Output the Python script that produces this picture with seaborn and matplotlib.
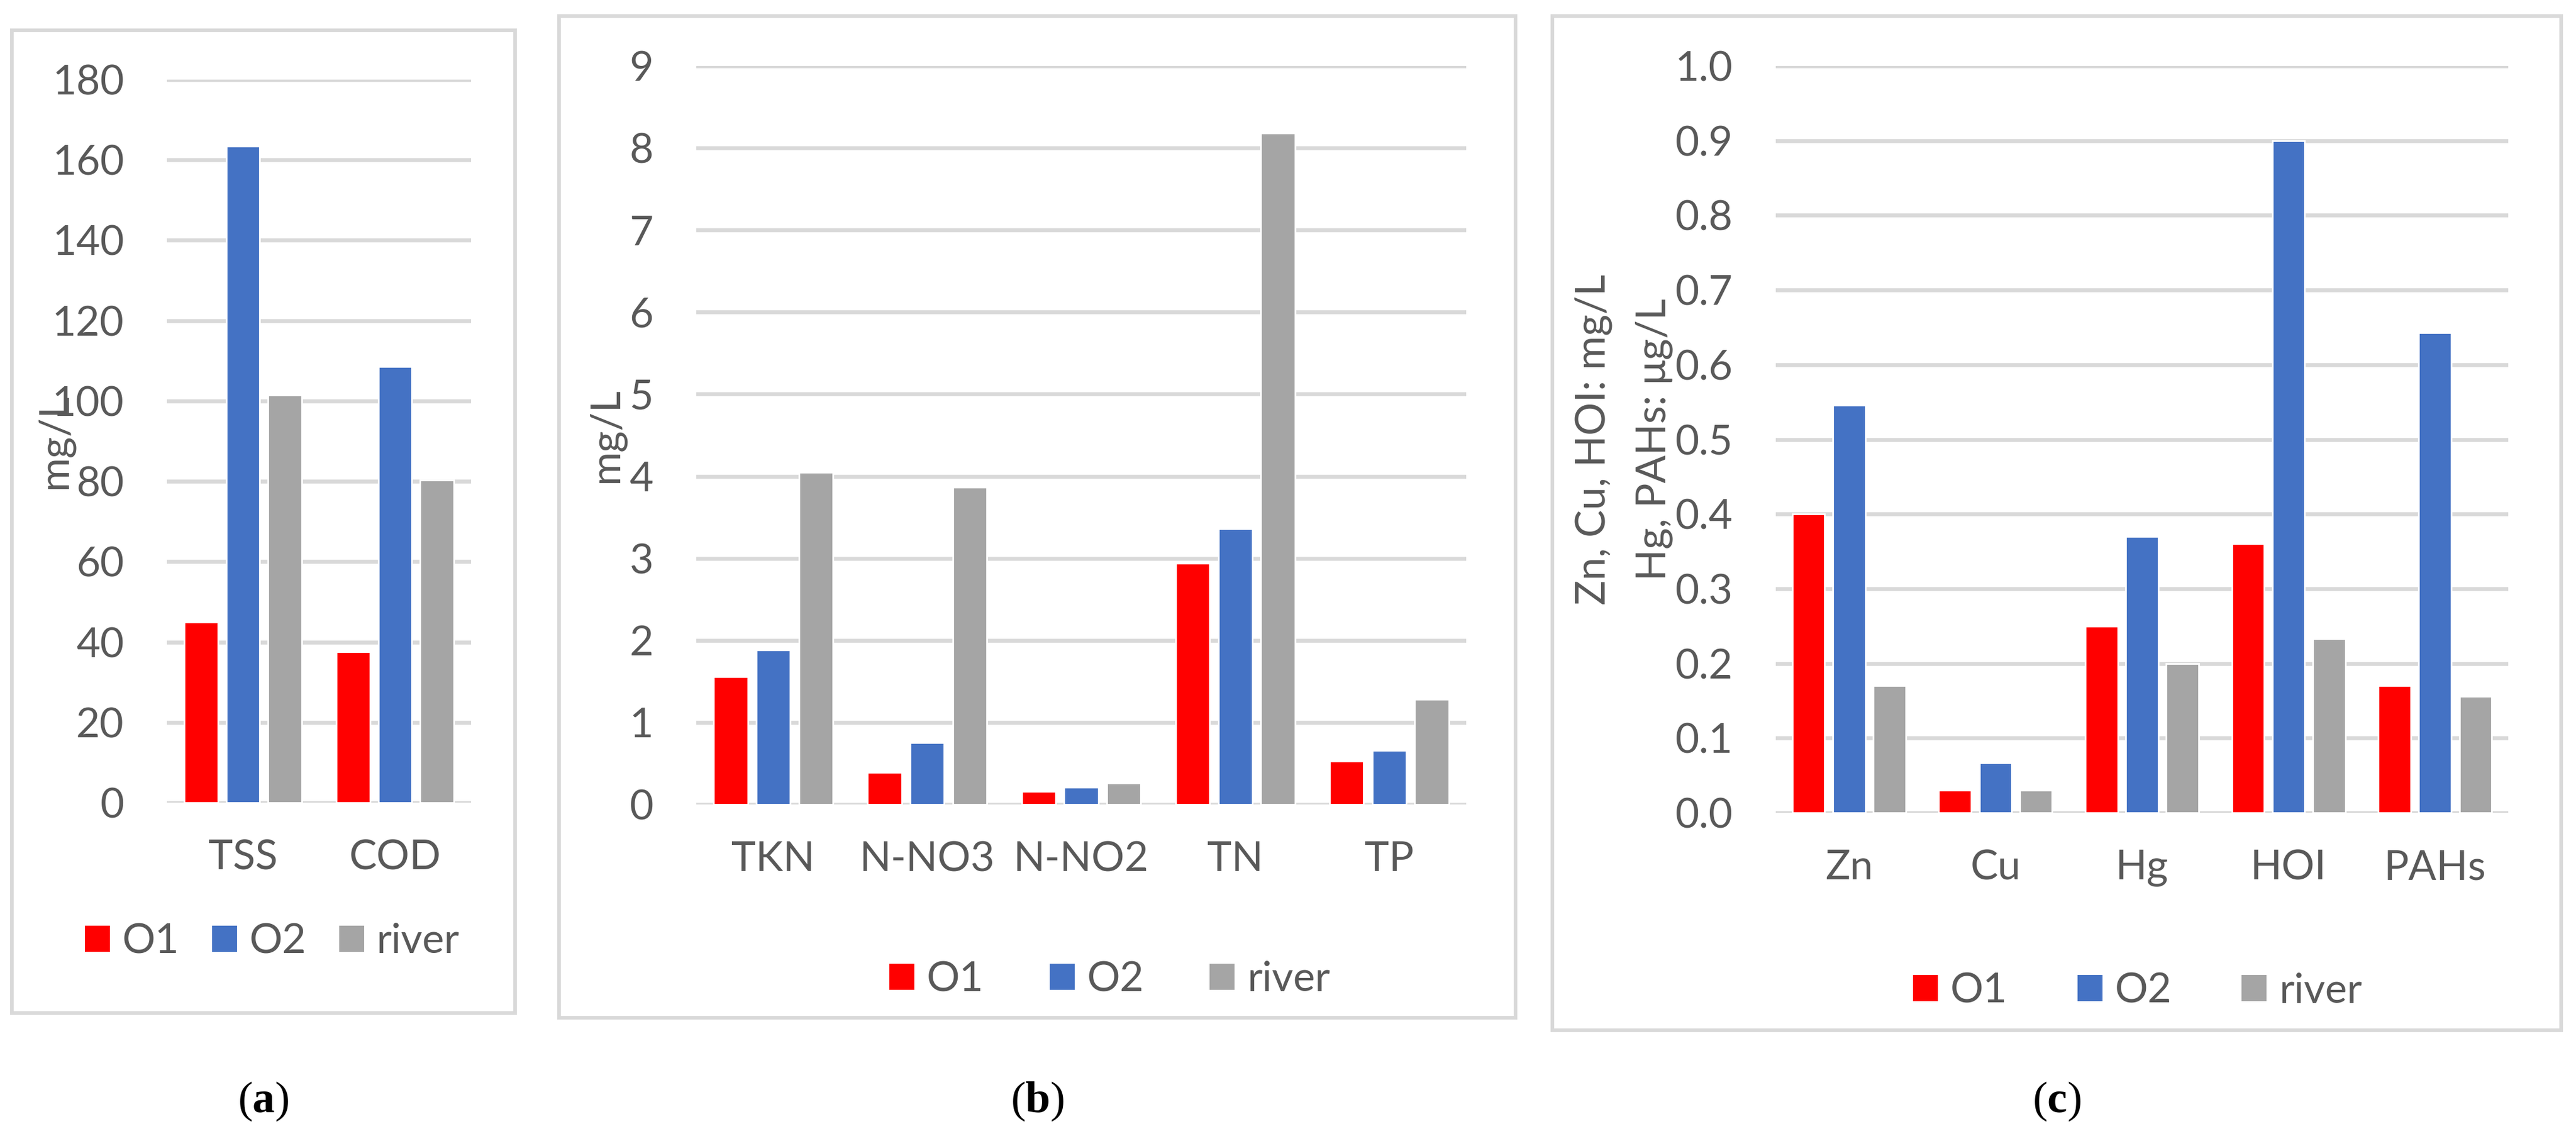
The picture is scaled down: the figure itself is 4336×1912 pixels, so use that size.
import seaborn as sns
import pandas as pd
import matplotlib.pyplot as plt
from matplotlib.patches import Patch, Rectangle

sites = ['O1', 'O2', 'river']
colors = ['#FF0000', '#4472C4', '#A5A5A5']

params_a = ['TSS', 'COD']
o1_a = [45.0, 37.5]
o2_a = [163.5, 108.5]
river_a = [101.5, 80.3]

params_b = ['TKN', 'N-NO3', 'N-NO2', 'TN', 'TP']
o1_b = [1.56, 0.39, 0.16, 2.94, 0.53]
o2_b = [1.88, 0.75, 0.21, 3.36, 0.66]
river_b = [4.05, 3.87, 0.26, 8.18, 1.28]

params_c = ['Zn', 'Cu', 'Hg', 'HOI', 'PAHs']
o1_c = [0.40, 0.03, 0.25, 0.36, 0.17]
o2_c = [0.546, 0.067, 0.37, 0.90, 0.643]
river_c = [0.17, 0.03, 0.20, 0.233, 0.156]


def long_df(params, o1, o2, river):
    rows = []
    for site, vals in zip(sites, [o1, o2, river]):
        for p, v in zip(params, vals):
            rows.append({'param': p, 'site': site, 'value': v})
    return pd.DataFrame(rows)


sns.set_style('white')
plt.rcParams['font.family'] = ['Lato', 'DejaVu Sans']
plt.rcParams['mathtext.fontset'] = 'custom'
plt.rcParams['mathtext.rm'] = 'Liberation Serif'
plt.rcParams['mathtext.bf'] = 'Liberation Serif:bold'

W, H = 4336, 1912
fig = plt.figure(figsize=(W / 200, H / 200), dpi=200)

text_col = '#595959'
grid_col = '#D9D9D9'
fs = 25


def px_rect(x0, x1, y0, y1):
    return [x0 / W, 1 - y1 / H, (x1 - x0) / W, (y1 - y0) / H]


panels = [
    dict(df=long_df(params_a, o1_a, o2_a, river_a), ax=px_rect(281, 793, 134, 1351),
         box=(20, 867, 51, 1705), ylim=(0, 180), step=20, fmt='{:.0f}',
         ylabel='mg/L', lx=-0.369, leg=(458, 1585), colsp=0.8, cap='a'),
    dict(df=long_df(params_b, o1_b, o2_b, river_b), ax=px_rect(1172, 2468, 111, 1354),
         box=(941, 2551, 27, 1713), ylim=(0, 9), step=1, fmt='{:.0f}',
         ylabel='mg/L', lx=-0.117, leg=(1868, 1649), colsp=1.6, cap='b'),
    dict(df=long_df(params_c, o1_c, o2_c, river_c), ax=px_rect(2989, 4222, 111, 1368),
         box=(2613, 4311, 27, 1734), ylim=(0, 1.0), step=0.1, fmt='{:.1f}',
         ylabel='Zn, Cu, HOI: mg/L\nHg, PAHs: μg/L', lx=-0.2076, leg=(3598, 1668),
         colsp=1.7, cap='c'),
]

for p in panels:
    x0, x1, y0, y1 = p['box']
    fig.patches.append(Rectangle((x0 / W, 1 - y1 / H), (x1 - x0) / W, (y1 - y0) / H,
                                 transform=fig.transFigure, fill=False,
                                 edgecolor=grid_col, linewidth=2.2))
    ax = fig.add_axes(p['ax'])
    sns.barplot(data=p['df'], x='param', y='value', hue='site', palette=colors,
                saturation=1, width=0.83, gap=0.2, legend=False, ax=ax)
    lo, hi = p['ylim']
    ax.set_ylim(lo, hi)
    n = int(round((hi - lo) / p['step']))
    ticks = [lo + i * p['step'] for i in range(n + 1)]
    ax.set_yticks(ticks)
    ax.set_yticklabels([p['fmt'].format(t) for t in ticks])
    ax.set_axisbelow(True)
    ax.yaxis.grid(True, color=grid_col, linewidth=2.4)
    ax.xaxis.grid(False)
    sns.despine(ax=ax, left=True, bottom=True)
    ax.tick_params(axis='y', length=0, pad=26, labelsize=fs, labelcolor=text_col)
    ax.tick_params(axis='x', length=0, pad=22, labelsize=fs, labelcolor=text_col)
    ax.set_xlabel('')
    ax.set_ylabel('')
    ax.text(p['lx'], 0.5, p['ylabel'], transform=ax.transAxes, rotation=90,
            ha='center', va='center', multialignment='center', fontsize=fs,
            color=text_col, linespacing=1.75)
    handles = [Patch(facecolor=c, edgecolor='none') for c in colors]
    lx, ly = p['leg']
    fig.legend(handles, sites, loc='center', bbox_to_anchor=(lx / W, 1 - ly / H),
               ncol=3, frameon=False, fontsize=fs, labelcolor=text_col,
               handlelength=0.6, handleheight=0.6, handletextpad=0.3,
               columnspacing=p['colsp'], borderpad=0)
    cx = (x0 + x1) / 2 / W
    fig.text(cx, 1 - 1854 / H, r'($\mathbf{%s}$)' % p['cap'], ha='center', va='center',
             fontsize=27, family='Liberation Serif', color='black')

fig.savefig('out.png', dpi=200, facecolor='white')
